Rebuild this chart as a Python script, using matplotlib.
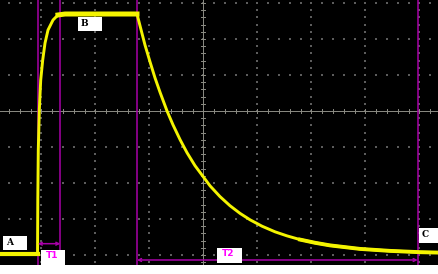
import numpy as np
import matplotlib
matplotlib.use('Agg')
import matplotlib.pyplot as plt
from matplotlib.patches import Rectangle

# scope trace (units: divisions, centre = 0,0)
t_div = [-3.765, -3.070, -3.065, -3.056, -3.037, -3.011, -2.974, -2.931, -2.876,
         -2.783, -2.691, -2.561, -1.228, -1.152, -1.080, -0.985, -0.894, -0.800,
         -0.672, -0.561, -0.431, -0.302, -0.154, 0.124, 0.309, 0.494, 0.680,
         0.865, 1.087, 1.328, 1.550, 1.791, 2.069, 2.346, 2.902, 3.457, 4.013, 4.346]
v_div = [-3.972, -3.972, -2.472, -1.083, 0.028, 0.861, 1.417, 1.889, 2.250,
         2.528, 2.667, 2.694, 2.694, 2.250, 1.833, 1.356, 0.917, 0.514,
         0.000, -0.386, -0.794, -1.158, -1.519, -2.078, -2.378, -2.631, -2.844,
         -3.022, -3.200, -3.356, -3.469, -3.572, -3.661, -3.733, -3.831, -3.886, -3.922, -3.933]

# cursor positions (divisions)
cursors = [-3.070, -2.648, -1.222, 3.970]
t1_span = (-3.065, -2.648, -3.686)
t2_span = (-1.228, 3.970, -4.139)

# label boxes: name, x0, x1, y0, y1, text colour
labels = [('A', -3.709, -3.265, -3.875, -3.472, 'black'),
          ('T1', -3.011, -2.561, -4.45, -3.861, '#ff00ff'),
          ('B', -2.315, -1.870, 2.231, 2.619, 'black'),
          ('T2', 0.259, 0.711, -4.231, -3.797, '#ff00ff'),
          ('C', 4.000, 4.340, -3.675, -3.242, 'black')]

xmin, xmax = -3.765, 4.346
ymin, ymax = -4.278, 3.083

fig = plt.figure(figsize=(4.39, 2.74), dpi=100)
fig.patch.set_facecolor('white')
ax = fig.add_axes([0, 9 / 274, 438 / 439, 265 / 274])
ax.set_facecolor('black')
ax.set_xlim(xmin, xmax)
ax.set_ylim(ymin, ymax)
ax.set_xticks([])
ax.set_yticks([])
for s in ax.spines.values():
    s.set_visible(False)

# dotted graticule
dot_col = '#5c5c5c'
ys = np.arange(-4.4, 3.2, 0.2)
xs = np.arange(-3.8, 4.4, 0.2)
for k in range(-3, 5):
    if k != 0:
        ax.scatter(np.full(len(ys), k), ys, s=0.6, color=dot_col, marker='s', lw=0)
for k in range(-4, 4):
    if k != 0:
        ax.scatter(xs, np.full(len(xs), k), s=0.6, color=dot_col, marker='s', lw=0)

# centre axes with minor ticks
ax_col = '#8c8c84'
ax.axhline(0, color=ax_col, lw=0.7)
ax.axvline(0, color=ax_col, lw=0.7)
for x in xs:
    ax.plot([x, x], [-0.06, 0.06], color=ax_col, lw=0.7)
for y in ys:
    ax.plot([-0.04, 0.04], [y, y], color=ax_col, lw=0.7)

# cursors
mag = '#a800a8'
for c in cursors:
    ax.axvline(c, color=mag, lw=1.1)
for x0, x1, y in (t1_span, t2_span):
    ax.annotate('', xy=(x0, y), xytext=(x1, y),
                arrowprops=dict(arrowstyle='<->', color=mag, lw=1.1,
                                mutation_scale=5, shrinkA=0, shrinkB=0))

# trace
yel = '#f4f400'
t = np.array(t_div)
v = np.array(v_div)
ax.plot(t, v, color=yel, lw=2.1, solid_joinstyle='round')
ax.plot(t[:2], v[:2], color=yel, lw=3.0)
ax.plot(t[10:13], v[10:13], color=yel, lw=3.6)
ax.plot(t[31:], v[31:], color=yel, lw=2.8)

# label boxes
for name, x0, x1, y0, y1, col in labels:
    ax.add_patch(Rectangle((x0, y0), x1 - x0, y1 - y0, facecolor='white',
                           edgecolor='none', zorder=5))
    if col == 'black':
        ax.text(x0 + 0.05, y1 - 0.06, name, color=col, fontsize=6.5,
                fontweight='bold', family='DejaVu Serif', va='top', ha='left', zorder=6)
    else:
        ax.text(x0 + 0.09, y1 - 0.04, name, color=col, fontsize=6.5,
                fontweight='bold', family='DejaVu Sans', va='top', ha='left', zorder=6)

fig.savefig('out.png', dpi=100, facecolor='white')
